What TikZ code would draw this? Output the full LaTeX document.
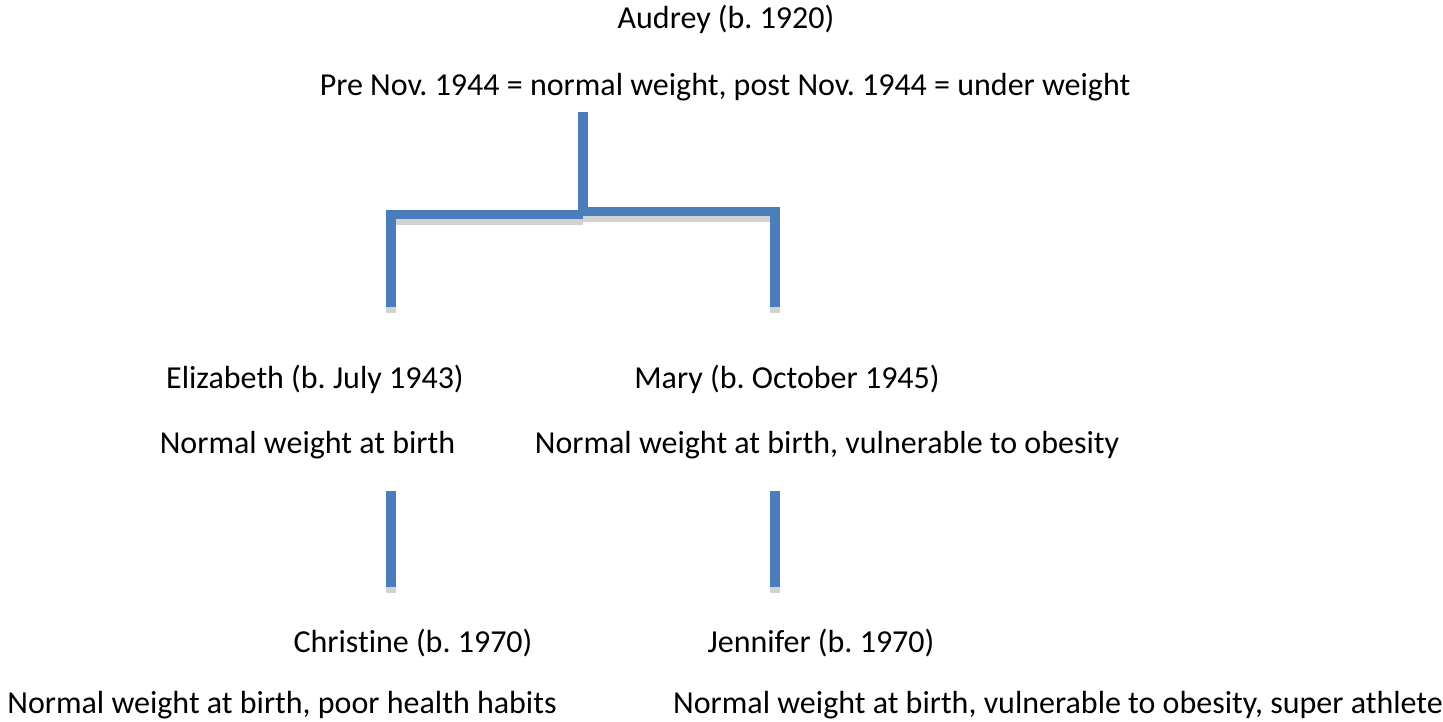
\documentclass[tikz,border=0pt]{standalone}
\usepackage{fontspec}
\setmainfont{Carlito}[Ligatures={NoCommon}]
\usepackage{tikz}
\frenchspacing

\begin{document}
\begin{tikzpicture}[x=1pt,y=-1pt,
  txt/.style={inner sep=0pt,anchor=base,font=\fontsize{32}{36}\selectfont},
  link/.style={line width=9.5pt,color={rgb,255:red,74;green,126;blue,187}},
  shade/.style={line width=9.5pt,color={rgb,255:red,210;green,210;blue,210},
    transform canvas={yshift=-6pt}}]
\useasboundingbox (0,0) rectangle (1443,721);
% people
\node[txt] (audrey) at (726,28) {Audrey (b. 1920)};
\node[txt] (audreyw) at (725,95) {Pre Nov. 1944 = normal weight, post Nov. 1944 = under weight};
\node[txt] (eliz) at (315,388) {Elizabeth (b. July 1943)};
\node[txt] (elizw) at (307.5,453) {Normal weight at birth};
\node[txt] (mary) at (787,388) {Mary (b. October 1945)};
\node[txt] (maryw) at (827,453) {Normal weight at birth, vulnerable to obesity};
\node[txt] (chris) at (413,652) {Christine (b. 1970)};
\node[txt] (chrisw) at (282,713) {Normal weight at birth, poor health habits};
\node[txt] (jenn) at (821,652) {Jennifer (b. 1970)};
\node[txt] (jennw) at (1058,713) {Normal weight at birth, vulnerable to obesity, super athlete};
% line ends
\coordinate (top) at (583,112);
\coordinate (mid) at (583,211.5);
\coordinate (midl) at (583,214.5);
\coordinate (lcorner) at (391,214.5);
\coordinate (rcorner) at (775,211.5);
\coordinate (ltop) at (391,210);
\coordinate (rtop) at (775,207);
\coordinate (lbot) at (391,307);
\coordinate (rbot) at (775,307);
\coordinate (l2top) at (391,491);
\coordinate (l2bot) at (391,587);
\coordinate (r2top) at (775,491);
\coordinate (r2bot) at (775,587);
% shadows
\draw[shade] (midl) -- (lcorner);
\draw[shade] (mid) -- (rcorner);
\draw[shade] (ltop) -- (lbot);
\draw[shade] (rtop) -- (rbot);
\draw[shade] (l2top) -- (l2bot);
\draw[shade] (r2top) -- (r2bot);
% links
\draw[link] (top) -- (mid);
\draw[link] (midl) -- (lcorner);
\draw[link] (mid) -- (rcorner);
\draw[link] (ltop) -- (lbot);
\draw[link] (rtop) -- (rbot);
\draw[link] (l2top) -- (l2bot);
\draw[link] (r2top) -- (r2bot);
\end{tikzpicture}
\end{document}
